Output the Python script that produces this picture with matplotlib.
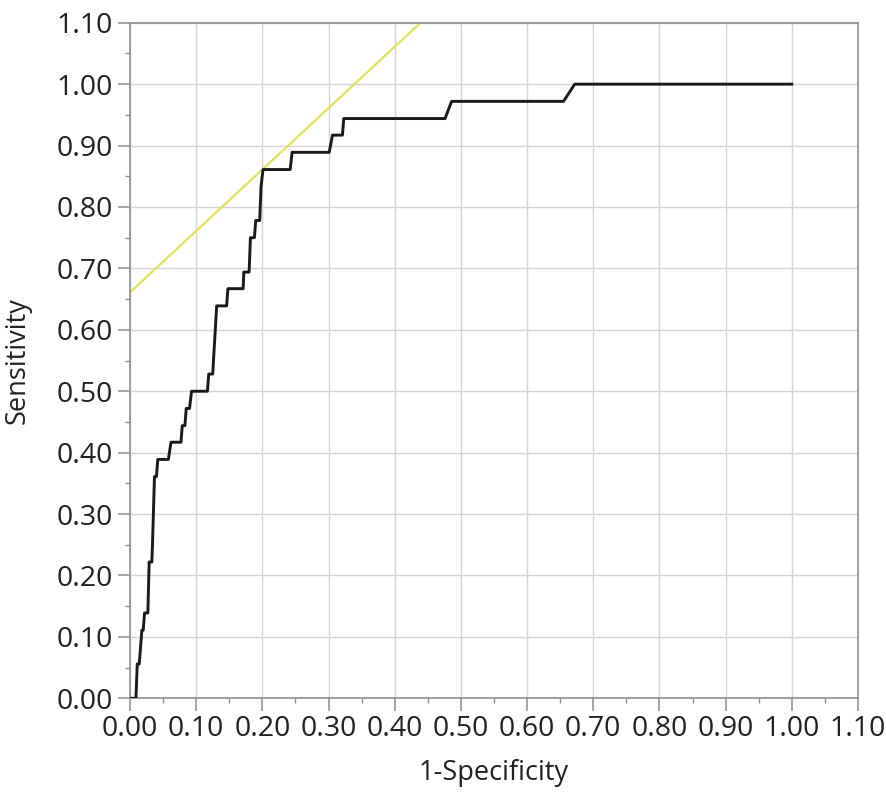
import numpy as np
import matplotlib
matplotlib.use('Agg')
import matplotlib.pyplot as plt
from matplotlib.ticker import MultipleLocator, FormatStrFormatter

# ROC curve corner points (1-Specificity, Sensitivity)
fpr = [0.002, 0.009, 0.011, 0.014, 0.018, 0.020, 0.022, 0.027, 0.029, 0.033,
       0.034, 0.037, 0.040, 0.042, 0.058, 0.062, 0.077, 0.079, 0.083, 0.085,
       0.090, 0.093, 0.117, 0.119, 0.125, 0.131, 0.146, 0.148, 0.171, 0.172,
       0.180, 0.182, 0.188, 0.190, 0.196, 0.198, 0.201, 0.242, 0.245, 0.301,
       0.306, 0.321, 0.323, 0.476, 0.486, 0.655, 0.672, 1.000]
tpr = [0.000, 0.000, 0.056, 0.056, 0.111, 0.111, 0.139, 0.139, 0.222, 0.222,
       0.250, 0.361, 0.361, 0.389, 0.389, 0.417, 0.417, 0.444, 0.444, 0.472,
       0.472, 0.500, 0.500, 0.528, 0.528, 0.639, 0.639, 0.667, 0.667, 0.694,
       0.694, 0.750, 0.750, 0.778, 0.778, 0.833, 0.861, 0.861, 0.889, 0.889,
       0.917, 0.917, 0.944, 0.944, 0.972, 0.972, 1.000, 1.000]

# tangent line (slope 1) through the best cut-off point
tangent_slope = 1.0
tangent_intercept = 0.661

plt.rcParams['font.family'] = ['Open Sans', 'DejaVu Sans']

fig = plt.figure(figsize=(8.86, 7.98), dpi=100)
ax = fig.add_axes([0.1467, 0.1249, 0.8217, 0.8466])

ax.plot(fpr, tpr, color='#1a1a1a', lw=2.1, zorder=3)

x_end = (1.1 - tangent_intercept) / tangent_slope
tx = np.array([0.0, x_end])
ax.plot(tx, tangent_intercept + tangent_slope * tx, color='#e2e25c', lw=1.6, zorder=2)

ax.set_xlim(0, 1.1)
ax.set_ylim(0, 1.1)
ax.xaxis.set_major_locator(MultipleLocator(0.1))
ax.yaxis.set_major_locator(MultipleLocator(0.1))
ax.xaxis.set_minor_locator(MultipleLocator(0.05))
ax.yaxis.set_minor_locator(MultipleLocator(0.05))
ax.xaxis.set_major_formatter(FormatStrFormatter('%.2f'))
ax.yaxis.set_major_formatter(FormatStrFormatter('%.2f'))

ax.grid(True, which='major', color='#d4d4d4', lw=1.0)
ax.set_axisbelow(True)
for s in ax.spines.values():
    s.set_color('#909090')
    s.set_linewidth(1.2)

ax.tick_params(which='major', length=9, width=1.1, color='#909090',
               labelsize=20.5, labelcolor='#222222', pad=3)
ax.tick_params(which='minor', length=3.6, width=1.0, color='#909090')

ax.set_xlabel('1-Specificity', fontsize=19.5, color='#222222')
ax.set_ylabel('Sensitivity', fontsize=19.5, color='#222222')
ax.xaxis.set_label_coords(0.5, -0.1106)
ax.xaxis.label.set_va('center')
ax.yaxis.set_label_coords(-0.154, 0.5)
ax.yaxis.label.set_va('center')

fig.savefig('out.png', dpi=100)
